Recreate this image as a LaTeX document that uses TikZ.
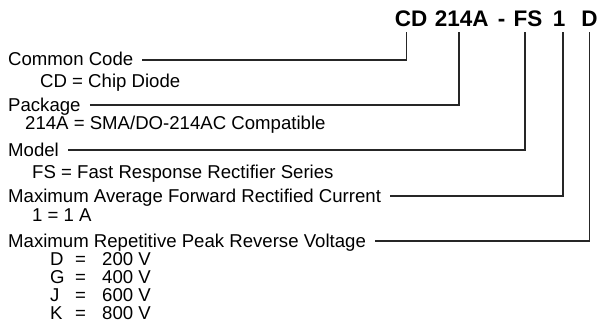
\documentclass[tikz,border=0pt]{standalone}
\usepackage{fontspec}
\setmainfont{Liberation Sans}

\begin{document}
\begin{tikzpicture}[x=1pt, y=-1pt,
	label/.style={anchor=base west, inner sep=0pt, font=\fontsize{18.6}{22}\selectfont},
	code/.style={anchor=base, inner sep=0pt, inner ysep=4.5pt, font=\fontsize{22.5}{24}\selectfont\bfseries},
	lead/.style={line width=1.1pt, black!85}]
	\useasboundingbox (0,0) rectangle (599,326);

	% part number
	\node (cd) at (411, 27) [code] {CD};
	\node (pkg) at (461.7, 27) [code] {214A};
	\node (dash) at (501.5, 27) [code] {-};
	\node (fs) at (528, 27) [code] {FS};
	\node (amp) at (559, 27) [code] {1};
	\node (volt) at (589.5, 27) [code] {D};

	% fields
	\node (cc) at (8, 66) [label] {Common Code};
	\node (ccval) at (40, 88) [label] {CD = Chip Diode};
	\node (pk) at (8, 111) [label] {Package};
	\node (pkval) at (25, 129) [label] {214A = SMA/DO-214AC Compatible};
	\node (mo) at (8, 156) [label] {Model};
	\node (moval) at (32, 178) [label] {FS = Fast Response Rectifier Series};
	\node (cur) at (8, 202) [label] {Maximum Average Forward Rectified Current};
	\node (curval) at (32, 221) [label] {1 = 1 A};
	\node (vr) at (8, 247) [label] {Maximum Repetitive Peak Reverse Voltage};

	% voltage codes
	\foreach \c/\v [count=\i] in {D/200, G/400, J/600, K/800} {
		\node (vr\c) at (50, 247 + 18*\i) [label] {\c};
		\node at (75, 247 + 18*\i) [label] {=};
		\node at (102, 247 + 18*\i) [label] {\v\ V};
	}

	% leaders
	\draw[lead] ([xshift=9pt, yshift=6pt]cc.base east) -| ([xshift=-4.3pt]cd.south);
	\draw[lead] ([xshift=9pt, yshift=6pt]pk.base east) -| ([xshift=-2.7pt]pkg.south);
	\draw[lead] ([xshift=9pt, yshift=6pt]mo.base east) -| ([xshift=-3pt]fs.south);
	\draw[lead] ([xshift=9pt, yshift=6pt]cur.base east) -| ([xshift=4pt]amp.south);
	\draw[lead] ([xshift=9pt, yshift=6pt]vr.base east) -| ([xshift=0pt]volt.south);
\end{tikzpicture}
\end{document}
